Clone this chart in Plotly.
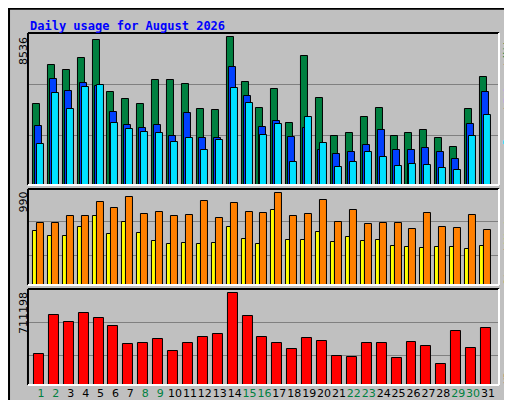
import plotly.graph_objects as go

days = list(range(1, 32))
hits = [4646,6910,6620,7317,8362,5342,4936,4646,6039,6039,5807,4413,4355,8536,5923,4471,5517,3600,7433,4994,2845,3020,3949,4471,2845,3020,3194,2729,2207,4413,6213]
files = [3426,6097,5400,5865,5691,4239,3484,3310,3484,2845,4181,2729,2729,6794,5110,3368,3716,2787,3310,2032,1800,1916,2323,3194,2032,2032,2149,1916,1510,3542,5342]
pages = [2381,5284,4413,5633,5749,3600,3252,3078,3020,2497,2729,2032,2613,5575,4704,2904,3542,1336,3949,2439,1045,1336,1916,1626,1103,1219,1161,987,871,2845,4065]
sites = [580,526,526,623,742,547,677,558,472,439,450,439,450,623,493,439,806,482,482,569,461,515,472,482,418,407,396,407,407,385,418]
visits = [666,666,742,742,893,828,947,763,785,742,752,904,720,882,785,774,990,742,763,914,673,806,652,666,666,601,774,623,612,752,590]
kbytes = [236200,539900,485400,555500,516500,454200,314100,321900,353000,259600,321900,368600,391900,711198,532100,368600,321900,275100,360800,337400,220600,212800,321900,321900,205000,329600,298500,158300,415300,282900,438600]
weekend = [1,2,8,9,15,16,22,23,29,30]
title = "Daily usage for August 2026"

fig = go.Figure()
ln = dict(color="black", width=1)
def bar(y, color, off, w, ax):
    fig.add_trace(go.Bar(x=days, y=y, marker=dict(color=color, line=ln), offset=off, width=w,
                         xaxis="x", yaxis=ax, showlegend=False, hoverinfo="skip"))
bar(hits, "#008040", -0.54, 0.47, "y")
bar(files, "#0040ff", -0.40, 0.47, "y")
bar(pages, "#00e0ff", -0.27, 0.47, "y")
bar(sites, "#ffff00", -0.54, 0.30, "y2")
bar(visits, "#ff8000", -0.27, 0.47, "y2")
bar(kbytes, "#ff0000", -0.47, 0.67, "y3")

ticktext = [f'<span style="color:{"#008040" if d in weekend else "black"}">{d}</span>' for d in days]
yax = dict(showticklabels=False, gridcolor="#808080", gridwidth=1, zeroline=False, fixedrange=True,
           showline=False, ticks="")
fig.update_layout(
    width=512, height=400, margin=dict(l=0, r=0, t=0, b=0),
    paper_bgcolor="#c0c0c0", plot_bgcolor="#c0c0c0", barmode="overlay", bargap=0,
    font=dict(family="DejaVu Sans", size=11, color="black"),
    xaxis=dict(domain=[0.039, 0.959], range=[0.13, 31.74], tickvals=days, ticktext=ticktext,
               tickangle=0, showgrid=False, zeroline=False, ticks="", anchor="y3", ticklen=0,
               tickfont=dict(size=11)),
    yaxis=dict(domain=[0.5575, 0.9375], range=[0, 8769], tickvals=[2845, 5807], **yax),
    yaxis2=dict(domain=[0.3075, 0.5475], range=[0, 1030], tickvals=[320, 677], **yax),
    yaxis3=dict(domain=[0.0575, 0.2975], range=[0, 739900], tickvals=[228400, 485400], **yax),
)
shapes = [
    dict(type="rect", xref="paper", yref="paper", x0=0.988, x1=1, y0=0, y1=1, fillcolor="#909090", line=dict(width=0), layer="below"),
    dict(type="rect", xref="paper", yref="paper", x0=0, x1=1, y0=0, y1=0.015, fillcolor="#909090", line=dict(width=0), layer="below"),
    dict(type="rect", xref="paper", yref="paper", x0=0.002, x1=0.998, y0=0.002, y1=0.998, line=dict(color="black", width=2)),
]
for d0, d1 in [(0.5575, 0.9375), (0.3075, 0.5475), (0.0575, 0.2975)]:
    shapes += [
        dict(type="line", xref="paper", yref="paper", x0=0.039, x1=0.959, y0=d1, y1=d1, line=dict(color="black", width=2)),
        dict(type="line", xref="paper", yref="paper", x0=0.039, x1=0.039, y0=d0, y1=d1, line=dict(color="black", width=2)),
        dict(type="line", xref="paper", yref="paper", x0=0.959, x1=0.959, y0=d0, y1=d1, line=dict(color="white", width=2)),
        dict(type="line", xref="paper", yref="paper", x0=0.039, x1=0.959, y0=d0, y1=d0, line=dict(color="white", width=2)),
    ]
fig.update_layout(shapes=shapes)

ann = [dict(text=f"<b>{title}</b>", x=20/512, y=1-18/400, xanchor="left", yanchor="middle",
            font=dict(family="DejaVu Sans Mono", size=12, color="#0000ff"))]
for txt, ytop in [("8536", 27), ("990", 182), ("711198", 282)]:
    ann.append(dict(text=txt, x=15/512, y=1-ytop/400, xanchor="center", yanchor="top", textangle=-90,
                    font=dict(family="DejaVu Sans", size=11, color="black")))
right = [("Hits", "#008040", 38), ("/", "black", 58), ("Files", "#0040ff", 81), ("/", "black", 102),
         ("Pages", "#00e0ff", 122), ("Visits", "#ffff00", 218), ("/", "black", 243), ("Sites", "#ff8000", 262),
         ("KBytes", "#ff0000", 358)]
for t, c, yc in right:
    ann.append(dict(text=t, x=500/512, y=1-yc/400, xanchor="center", yanchor="middle", textangle=-90,
                    font=dict(family="DejaVu Sans Mono", size=10, color=c)))
for a in ann:
    a.update(xref="paper", yref="paper", showarrow=False)
fig.update_layout(annotations=ann)
fig.write_html("out.html")
